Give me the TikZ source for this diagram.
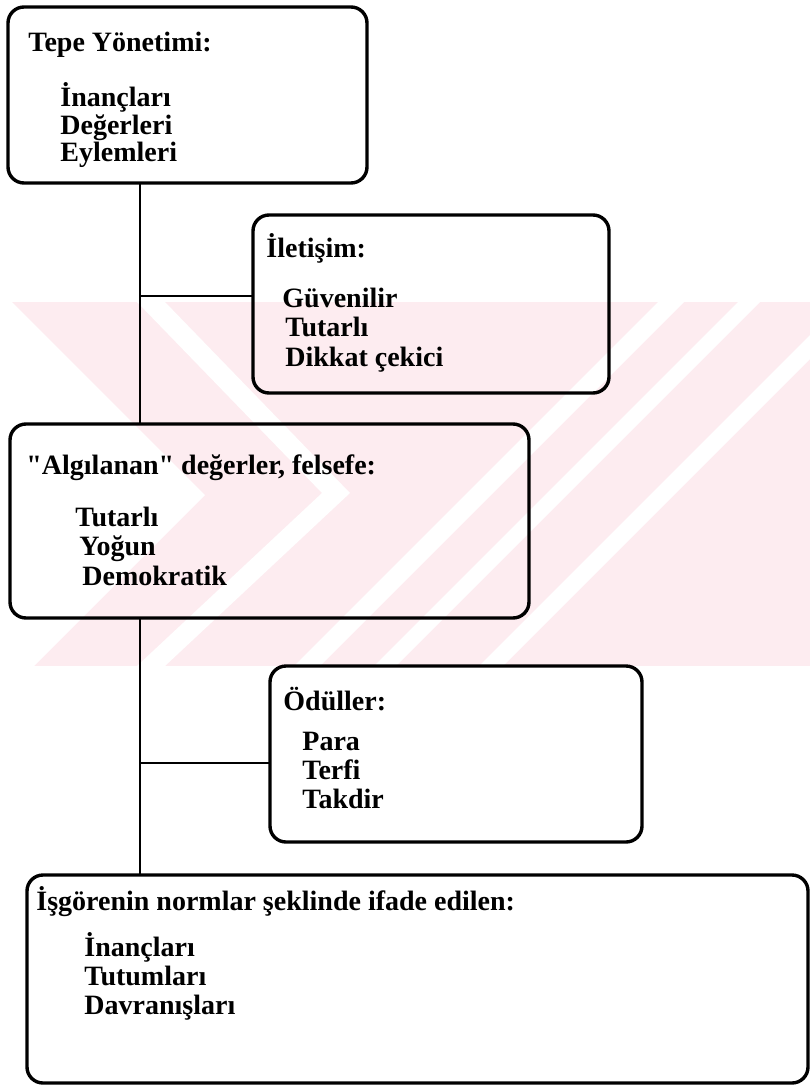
\documentclass[tikz,border=0pt]{standalone}
\usepackage{fontspec}
\setmainfont{Liberation Serif}
\definecolor{filigran}{RGB}{253,236,240}

\begin{document}
\begin{tikzpicture}[x=0.5pt,y=-0.5pt,
		kutu/.style={draw,rounded corners=8pt,line width=1.7pt,anchor=north west,outer sep=0pt,inner sep=0pt},
		yazi/.style={anchor=base west,inner sep=0pt,font=\fontsize{14}{15}\selectfont\bfseries},
		hat/.style={line width=1.4pt}]
		\useasboundingbox (0,0) rectangle (810,1086);
		
		% filigran (arka plan)
		\begin{scope}
			\clip (0,302) rectangle (810,666);
			\fill[filigran] (0,302) rectangle (810,666);
			\fill[white] (0,290) -- (205,495) -- (0,700) -- cycle;
			\fill[white] (137,302) -- (165,302) -- (350,493) -- (165,666) -- (137,666) -- (322,493) -- cycle;
			\foreach \c/\w in {960/26, 1040/22, 1145/24}
				\fill[white] (\c-302,302) -- (\c-302+\w,302) -- (\c-666+\w,666) -- (\c-666,666) -- cycle;
		\end{scope}
		
		% kutular
		\node[kutu,minimum width=179.5pt,minimum height=88pt] (tepe) at (8,7) {};
		\node[kutu,minimum width=178pt,minimum height=89pt] (iletisim) at (253,215) {};
		\node[kutu,minimum width=259.5pt,minimum height=97pt] (algi) at (10,424) {};
		\node[kutu,minimum width=186pt,minimum height=88pt] (odul) at (270,666) {};
		\node[kutu,minimum width=390.5pt,minimum height=104pt] (isgoren) at (27,875) {};
		
		% baglantilar
		\coordinate (kol1) at (140,296);
		\coordinate (kol2) at (140,763);
		\draw[hat] (tepe.south -| kol1) -- (algi.north -| kol1);
		\draw[hat] (kol1) -- (kol1 -| iletisim.west);
		\draw[hat] (algi.south -| kol2) -- (isgoren.north -| kol2);
		\draw[hat] (kol2) -- (kol2 -| odul.west);
		
		% yazilar
		\node[yazi] (tepe-b) at (28,52) {Tepe Yönetimi:};
		\foreach \x/\y/\t [count=\i] in {60/106/İnançları, 60/134/Değerleri, 60/162/Eylemleri}
			\node[yazi] (tepe-\i) at (\x,\y) {\t};
		
		\node[yazi] (iletisim-b) at (266,257) {İletişim:};
		\foreach \x/\y/\t [count=\i] in {282/307/Güvenilir, 285/336/Tutarlı, 285/366/Dikkat çekici}
			\node[yazi] (iletisim-\i) at (\x,\y) {\t};
		
		\node[yazi] (algi-b) at (26,474) {\textquotedbl Algılanan\textquotedbl{} değerler, felsefe:};
		\foreach \x/\y/\t [count=\i] in {75/526/Tutarlı, 79/555/Yoğun, 82/585/Demokratik}
			\node[yazi] (algi-\i) at (\x,\y) {\t};
		
		\node[yazi] (odul-b) at (283,710) {Ödüller:};
		\foreach \x/\y/\t [count=\i] in {302/750/Para, 302/779/Terfi, 302/808/Takdir}
			\node[yazi] (odul-\i) at (\x,\y) {\t};
		
		\node[yazi] (isgoren-b) at (36,910) {İşgörenin normlar şeklinde ifade edilen:};
		\foreach \x/\y/\t [count=\i] in {84/956/İnançları, 84/985/Tutumları, 84/1014/Davranışları}
			\node[yazi] (isgoren-\i) at (\x,\y) {\t};
\end{tikzpicture}
\end{document}
